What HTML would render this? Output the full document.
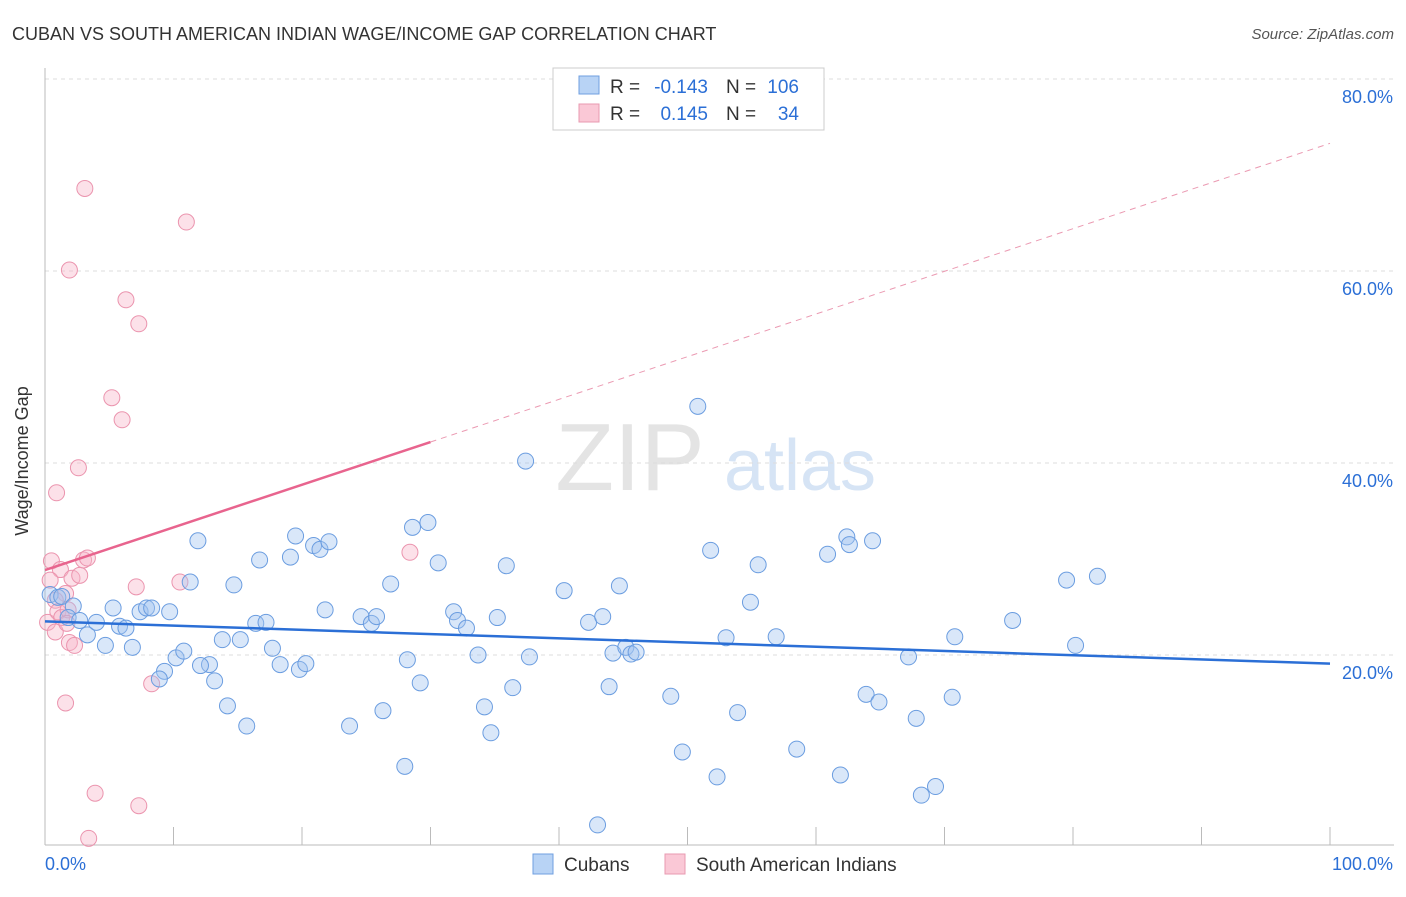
<!DOCTYPE html>
<html><head><meta charset="utf-8"><style>
body{margin:0;background:#fff;font-family:"Liberation Sans",sans-serif;}
svg text{font-family:"Liberation Sans",sans-serif;}
</style></head><body>
<svg id="chart" width="1406" height="892" viewBox="0 0 1406 892" xmlns="http://www.w3.org/2000/svg">
<text x="12" y="40" font-size="18" fill="#333">CUBAN VS SOUTH AMERICAN INDIAN WAGE/INCOME GAP CORRELATION CHART</text>
<text x="1394" y="39" font-size="15" fill="#555" text-anchor="end" font-style="italic">Source: ZipAtlas.com</text>
<text x="630" y="490" font-size="96" fill="#e4e4e4" font-family="Liberation Serif" text-anchor="middle">ZIP</text>
<text x="800" y="490" font-size="72" fill="#d6e4f5" text-anchor="middle">atlas</text>
<g id="grid"></g>
<g id="axes"></g>
<g id="pts"></g>
<g id="trend"></g>
<text x="22" y="455" font-size="18" fill="#333" text-anchor="middle" transform="rotate(-90 28 455)">Wage/Income Gap</text>
<g>
<rect x="553" y="68" width="271" height="62" fill="#fff" stroke="#ccc"/>
<rect x="579" y="76" width="20" height="18" fill="#b8d3f5" stroke="#6f9fe0"/>
<rect x="579" y="104" width="20" height="18" fill="#fac8d6" stroke="#e89ab0"/>
<text x="610" y="93" font-size="19" fill="#333">R =</text>
<text x="708" y="93" font-size="19" fill="#2b6fd6" text-anchor="end">-0.143</text>
<text x="726" y="93" font-size="19" fill="#333">N =</text>
<text x="799" y="93" font-size="19" fill="#2b6fd6" text-anchor="end">106</text>
<text x="610" y="120" font-size="19" fill="#333">R =</text>
<text x="708" y="120" font-size="19" fill="#2b6fd6" text-anchor="end">0.145</text>
<text x="726" y="120" font-size="19" fill="#333">N =</text>
<text x="799" y="120" font-size="19" fill="#2b6fd6" text-anchor="end">34</text>
</g>
<g>
<rect x="533" y="854" width="20" height="20" fill="#b8d3f5" stroke="#6f9fe0"/>
<text x="564" y="871" font-size="19" fill="#333">Cubans</text>
<rect x="665" y="854" width="20" height="20" fill="#fac8d6" stroke="#e89ab0"/>
<text x="696" y="871" font-size="19" fill="#333">South American Indians</text>
</g>
</svg>
<script>
const yTicks=[20,40,60,80];
const yTickLabels=["20.0%","40.0%","60.0%","80.0%"];
const xTicks=[0,10,20,30,40,50,60,70,80,90,100];
const cubanX=[0.4,1.0,1.3,2.2,1.8,2.7,3.3,4.0,4.7,5.3,5.8,6.3,6.8,7.4,7.9,8.3,9.7,9.3,8.9,10.2,10.8,11.3,11.9,12.8,12.1,13.2,13.8,14.2,14.7,15.2,15.7,16.4,16.7,17.2,17.7,18.3,19.1,19.5,19.8,20.3,20.9,21.4,21.8,22.1,23.7,24.6,25.4,25.8,26.3,26.9,28.0,28.2,28.6,29.2,29.8,30.6,31.8,32.1,32.8,33.7,34.2,34.7,35.2,35.9,36.4,37.4,37.7,40.4,42.3,43.0,43.4,43.9,44.2,44.7,45.2,45.6,46.0,48.7,49.6,50.8,51.8,52.3,53.0,53.9,54.9,55.5,56.9,58.5,60.9,61.9,62.4,62.6,63.9,64.4,64.9,67.2,67.8,68.2,69.3,70.6,70.8,75.3,79.5,80.2,81.9];
const cubanY=[26.3,26.0,26.1,25.1,23.9,23.6,22.1,23.4,21.0,24.9,23.0,22.8,20.8,24.5,24.9,24.9,24.5,18.3,17.5,19.7,20.4,27.6,31.9,19.0,18.9,17.3,21.6,14.7,27.3,21.6,12.6,23.3,29.9,23.4,20.7,19.0,30.2,32.4,18.5,19.1,31.4,31.0,24.7,31.8,12.6,24.0,23.3,24.0,14.2,27.4,8.4,19.5,33.3,17.1,33.8,29.6,24.5,23.6,22.8,20.0,14.6,11.9,23.9,29.3,16.6,40.2,19.8,26.7,23.4,2.3,24.0,16.7,20.2,27.2,20.8,20.1,20.3,15.7,9.9,45.9,30.9,7.3,21.8,14.0,25.5,29.4,21.9,10.2,30.5,7.5,32.3,31.5,15.9,31.9,15.1,19.8,13.4,5.4,6.3,15.6,21.9,23.6,27.8,21.0,28.2];
const saiX=[0.5,0.9,1.2,1.6,0.8,0.2,1.0,1.3,1.8,1.9,2.3,2.1,2.7,2.6,1.9,3.1,3.0,3.3,1.6,3.9,3.4,5.2,6.0,6.3,7.3,7.1,7.3,8.3,10.5,11.0,28.4,0.4,0.8,1.7];
const saiY=[29.8,36.9,28.9,26.4,25.7,23.4,24.5,23.9,24.7,21.3,21.0,28.0,28.3,39.5,60.1,68.6,29.9,30.1,15.0,5.6,0.9,46.8,44.5,57.0,54.5,27.1,4.3,17.0,27.6,65.1,30.7,27.8,22.4,23.3];
const cubanTrend=[23.5,19.1];
const saiTrend=[28.85,73.3];
const saiSolidEnd=30;

const NS="http://www.w3.org/2000/svg";
const X=v=>45+v*12.85, Y=v=>847-v*9.6;
function mk(tag,attrs,parent){const e=document.createElementNS(NS,tag);for(const k in attrs)e.setAttribute(k,attrs[k]);parent.appendChild(e);return e;}
const grid=document.getElementById('grid'),axes=document.getElementById('axes'),pts=document.getElementById('pts'),trend=document.getElementById('trend');
yTicks.forEach((t,i)=>{
 const l=mk('line',{x1:45,x2:1394,y1:Y(t),y2:Y(t),stroke:'#ddd','stroke-dasharray':'4,4'},grid);
 
 
 const tx=mk('text',{x:1393,y:Y(t)+24,'font-size':18,fill:'#2b6fd6','text-anchor':'end'},axes);
 tx.textContent=yTickLabels[i];
 
 
});
const yl=mk('line',{x1:45,x2:45,y1:68,y2:845,stroke:'#bbb'},axes);


const xl=mk('line',{x1:45,x2:1394,y1:845,y2:845,stroke:'#bbb'},axes);


xTicks.forEach(t=>{const l=mk('line',{x1:X(t),x2:X(t),y1:827,y2:845,stroke:'#bbb'},axes);
 
 });
const x0=mk('text',{x:45,y:870,'font-size':18,fill:'#2b6fd6'},axes);x0.textContent='0.0%';


const x1=mk('text',{x:1393,y:870,'font-size':18,fill:'#2b6fd6','text-anchor':'end'},axes);x1.textContent='100.0%';


saiX.forEach((v,i)=>{const c=mk('circle',{cx:X(v),cy:Y(saiY[i]),r:8,fill:'rgba(248,180,200,0.4)',stroke:'#eb94ae','stroke-width':1},pts);
 
 });
cubanX.forEach((v,i)=>{const c=mk('circle',{cx:X(v),cy:Y(cubanY[i]),r:8,fill:'rgba(160,196,240,0.4)',stroke:'#6b9de0','stroke-width':1},pts);
 
 });
const cb=mk('line',{x1:X(0),y1:Y(cubanTrend[0]),x2:X(100),y2:Y(cubanTrend[1]),stroke:'#2b6fd6','stroke-width':2.5},trend);


const ym=saiTrend[0]+(saiTrend[1]-saiTrend[0])*saiSolidEnd/100;
const ps=mk('line',{x1:X(0),y1:Y(saiTrend[0]),x2:X(saiSolidEnd),y2:Y(ym),stroke:'#e8648e','stroke-width':2.5},trend);


const pd=mk('line',{x1:X(saiSolidEnd),y1:Y(ym),x2:X(100),y2:Y(saiTrend[1]),stroke:'#eb9ab2','stroke-width':1,'stroke-dasharray':'6,5'},trend);


</script>
</body></html>
